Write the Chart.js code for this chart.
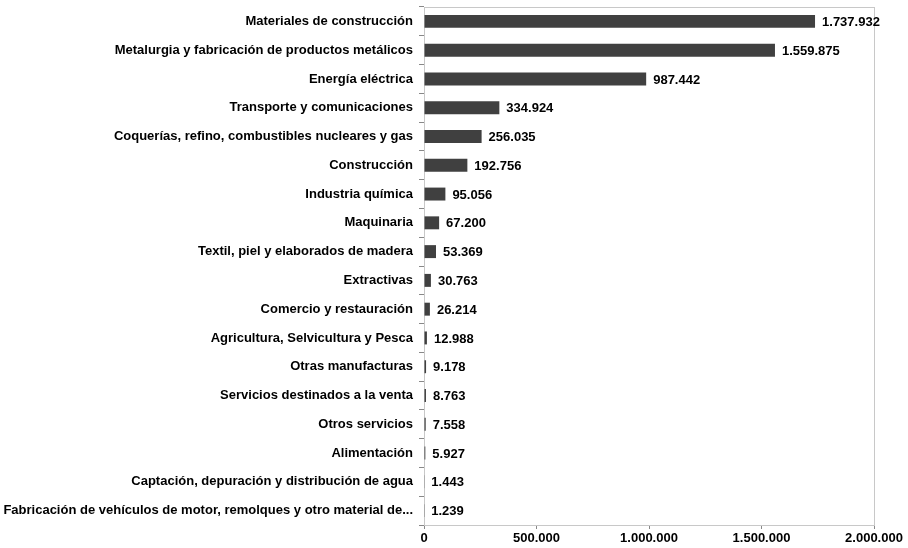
<!DOCTYPE html>
<html>
<head>
<meta charset="utf-8">
<script src="https://cdn.jsdelivr.net/npm/chart.js@4"></script>
<style>
  html, body { margin: 0; padding: 0; background: #fff; }
  canvas { display: block; }
</style>
</head>
<body>
<canvas id="myChart" width="908" height="548"></canvas>
<script>
const sectors = [
    'Materiales de construcción',
    'Metalurgia y fabricación de productos metálicos',
    'Energía eléctrica',
    'Transporte y comunicaciones',
    'Coquerías, refino, combustibles nucleares y gas',
    'Construcción',
    'Industria química',
    'Maquinaria',
    'Textil, piel y elaborados de madera',
    'Extractivas',
    'Comercio y restauración',
    'Agricultura, Selvicultura y Pesca',
    'Otras manufacturas',
    'Servicios destinados a la venta',
    'Otros servicios',
    'Alimentación',
    'Captación, depuración y distribución de agua',
    'Fabricación de vehículos de motor, remolques y otro material de...'
];
const amounts = [1737932, 1559875, 987442, 334924, 256035, 192756, 95056, 67200, 53369,
    30763, 26214, 12988, 9178, 8763, 7558, 5927, 1443, 1239];
const xTicks = [0, 500000, 1000000, 1500000, 2000000];

const FONT = { family: '"Liberation Sans", Arial, sans-serif', size: 13, weight: 'bold' };

// thousands separated with dots
function fmt(n) {
    return String(n).replace(/\B(?=(\d{3})+(?!\d))/g, '.');
}

// light frame round the plot area
const frame = {
    id: 'frame',
    beforeDatasetsDraw(chart) {
        const { ctx, chartArea: a } = chart;
        ctx.save();
        ctx.strokeStyle = '#c8c8c8';
        ctx.lineWidth = 1;
        ctx.strokeRect(a.left + 0.5, a.top + 0.5, a.right - a.left, a.bottom - a.top);
        ctx.restore();
    }
};

// value written after the end of each bar
const valueLabels = {
    id: 'valueLabels',
    afterDatasetsDraw(chart) {
        const { ctx } = chart;
        const meta = chart.getDatasetMeta(0);
        ctx.save();
        ctx.font = `bold ${FONT.size}px ${FONT.family}`;
        ctx.fillStyle = '#000';
        ctx.textBaseline = 'middle';
        meta.data.forEach((bar, i) => {
            ctx.fillText(fmt(amounts[i]), bar.x + 7, bar.y + 1);
        });
        ctx.restore();
    }
};

const ctx = document.getElementById('myChart').getContext('2d');
const myChart = new Chart(ctx, {
    type: 'bar',
    data: {
        labels: sectors,
        datasets: [{
            data: amounts,
            backgroundColor: '#404040',
            borderWidth: 0,
            barPercentage: 0.45,
            categoryPercentage: 1
        }]
    },
    options: {
        indexAxis: 'y',
        responsive: false,
        animation: false,
        layout: { padding: { top: 0, right: 34, left: 0, bottom: 0 } },
        plugins: { legend: { display: false }, tooltip: { enabled: false } },
        scales: {
            x: {
                min: 0,
                max: 2000000,
                afterBuildTicks(scale) {
                    scale.ticks = xTicks.map(v => ({ value: v }));
                },
                afterFit(scale) { scale.height = 23; },
                ticks: {
                    color: '#000',
                    font: FONT,
                    padding: 2,
                    maxRotation: 0,
                    callback: v => fmt(v)
                },
                grid: { drawOnChartArea: false, drawTicks: true, tickLength: 4, color: '#888' },
                border: { color: '#888', width: 1 }
            },
            y: {
                afterFit(scale) {
                    scale.width = 424;
                    scale.paddingTop = 7;
                    scale.paddingBottom = 0;
                },
                ticks: {
                    color: '#000',
                    font: FONT,
                    padding: 6,
                    autoSkip: false
                },
                grid: { drawOnChartArea: false, drawTicks: true, tickLength: 5, offset: true, color: '#888' },
                border: { color: '#888', width: 1 }
            }
        }
    },
    plugins: [frame, valueLabels]
});
</script>
</body>
</html>
